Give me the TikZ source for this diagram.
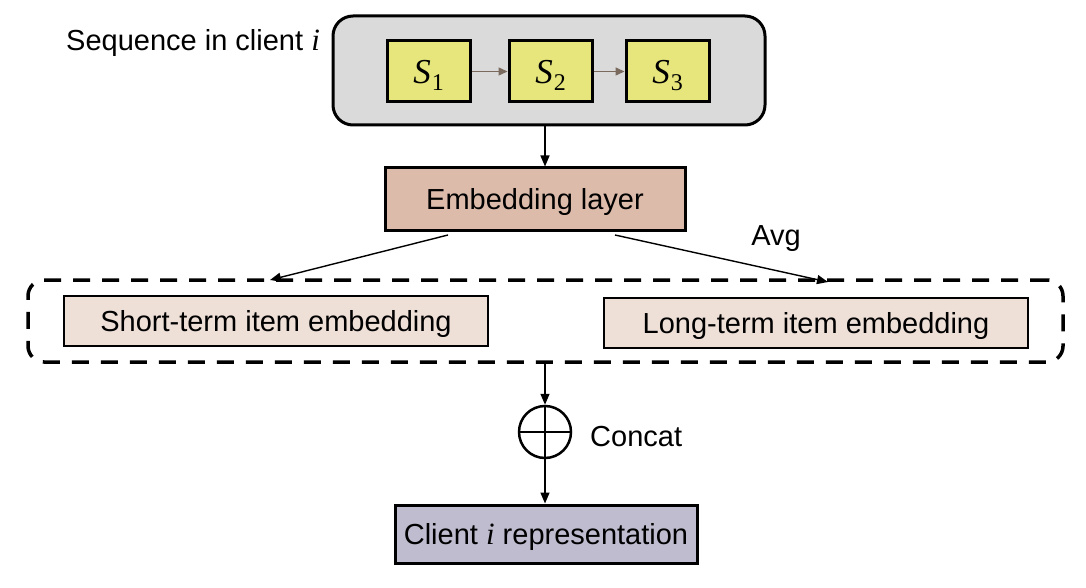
\documentclass[tikz,border=0pt]{standalone}
\usepackage{fontspec}
\setmainfont{Liberation Sans}
\newfontfamily\mfont{Liberation Serif}
\newcommand{\svar}[1]{{\mfont\fontsize{35}{35}\selectfont\itshape S}\kern1pt\raisebox{-7pt}{\mfont\fontsize{24}{24}\selectfont #1}}
\newcommand{\ivar}{{\mfont\fontsize{31}{31}\selectfont\itshape i}}
\usetikzlibrary{arrows.meta,calc}
\definecolor{seqgray}{HTML}{DADADA}
\definecolor{syellow}{HTML}{E6E67C}
\definecolor{embrose}{HTML}{DDBBAB}
\definecolor{termfill}{HTML}{EEDFD7}
\definecolor{clientfill}{HTML}{BEBCCE}
\definecolor{sarrow}{HTML}{7A6A5E}
\tikzset{
  x=1pt, y=-1pt,
  every node/.style={font=\fontsize{29}{32}\selectfont, inner sep=0pt},
  box/.style={draw=black, line width=3pt, rectangle, text depth=0pt},
  sbox/.style={box, fill=syellow, minimum width=83pt, minimum height=61pt},
  conn/.style={line width=1.4pt, -{Triangle[length=11pt,width=9pt]}},
}
\begin{document}
\begin{tikzpicture}
\useasboundingbox (0,0) rectangle (1086,588);
\node[box, rounded corners=20pt, fill=seqgray, minimum width=432pt, minimum height=109pt] (seq) at (549,70.5) {};
\node[sbox] (s1) at (428.5,71.5) {\svar{1}};
\node[sbox] (s2) at (550.5,71.5) {\svar{2}};
\node[sbox] (s3) at (667.5,71.5) {\svar{3}};
\draw[line width=1.5pt, draw=sarrow, -{Triangle[length=9pt,width=8pt]}] (s1) -- (s2);
\draw[line width=1.5pt, draw=sarrow, -{Triangle[length=9pt,width=8pt]}] (s2) -- (s3);
\node[anchor=west] (seqlab) at (66,43) {Sequence in client \ivar};

\node[box, fill=embrose, minimum width=300pt, minimum height=62pt] (emb) at (535,199) {Embedding layer};
\coordinate (seqout) at (545,125);
\draw[conn] (seqout) -- (seqout |- emb.north);

\node[draw=black, line width=3.5pt, dash pattern=on 17pt off 12pt, rounded corners=16pt, minimum width=1035pt, minimum height=82pt] (grp) at (545.5,321) {};
\node[box, line width=2.6pt, fill=termfill, minimum width=424pt, minimum height=50pt] (short) at (276,321) {Short-term item embedding};
\node[box, line width=2.6pt, fill=termfill, minimum width=424pt, minimum height=50pt] (long) at (816,323) {Long-term item embedding};

\coordinate (eL) at (448,235);
\coordinate (eR) at (615,235);
\coordinate (gL) at (270,280);
\coordinate (gR) at (828,282);
\draw[conn] (eL) -- (gL);
\draw[conn] (eR) -- (gR);
\node (avg) at (776,239) {Avg};

\node[draw=black, line width=2.5pt, circle, minimum size=52pt] (cat) at (545,432) {};
\draw[line width=2.5pt] (cat.north) -- (cat.south) (cat.west) -- (cat.east);
\node[anchor=west] (catlab) at (590,437) {Concat};
\coordinate (grpout) at (545,362);
\draw[conn] (grpout) -- (cat.north);

\node[box, fill=clientfill, minimum width=302pt, minimum height=58pt] (client) at (546,534) {Client \ivar\ representation};
\draw[conn] (cat.south) -- (cat.south |- client.north);
\end{tikzpicture}
\end{document}
